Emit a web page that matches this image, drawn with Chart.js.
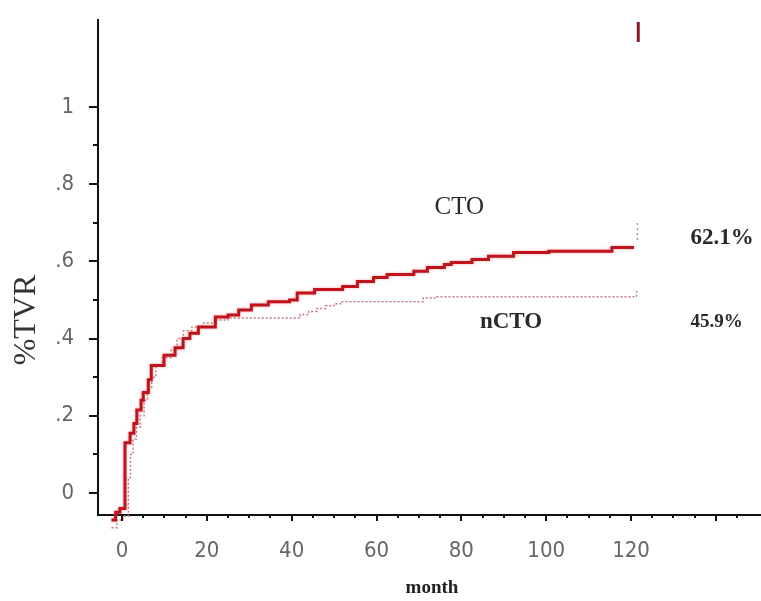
<!DOCTYPE html>
<html><head><meta charset="utf-8">
<script src="https://cdn.jsdelivr.net/npm/chart.js@4/dist/chart.umd.min.js"></script>
<style>html,body{margin:0;padding:0;background:#fff}</style>
</head><body>
<canvas id="c" width="761" height="601"></canvas>
<script>
// ---- data ----
const ctoMonths = [-2.5, -1.5, -0.5, 0.7, 1.9, 2.8, 3.5, 4.5, 5.0, 6.2, 6.9, 9.9, 12.5, 14.4, 16, 18, 22, 25, 27.5, 30.5, 34.5, 39.5, 41.3, 45.4, 52, 55.5, 59.3, 62.5, 68.8, 72, 76, 77.6, 82.5, 86.4, 92.3, 100.6, 115.5, 120.7];
const ctoValues = [-0.07, -0.05, -0.04, 0.13, 0.155, 0.18, 0.215, 0.24, 0.26, 0.293, 0.33, 0.357, 0.376, 0.40, 0.414, 0.43, 0.456, 0.461, 0.474, 0.487, 0.495, 0.50, 0.518, 0.527, 0.535, 0.548, 0.558, 0.566, 0.574, 0.584, 0.592, 0.597, 0.605, 0.613, 0.623, 0.626, 0.636, 0.636];
const nctoMonths = [-2.5, -1.2, 0.2, 1.5, 2.0, 2.6, 3.4, 4.3, 5.2, 6.0, 7.0, 8.0, 9.5, 11.5, 13, 14.5, 16.5, 19, 22, 25, 42, 44, 46, 48, 50, 51.5, 71, 74.3, 121];
const nctoValues = [-0.09, -0.07, -0.06, 0.04, 0.10, 0.14, 0.17, 0.20, 0.24, 0.27, 0.30, 0.33, 0.35, 0.37, 0.40, 0.42, 0.43, 0.44, 0.448, 0.453, 0.462, 0.47, 0.478, 0.485, 0.49, 0.495, 0.505, 0.508, 0.508];
const markTopMonths = [121.7, 121.7];
const markTopValues = [1.168, 1.22];
const markCtoEndMonths = [121.5, 121.5];
const markCtoEndValues = [0.655, 0.70];
const markNctoEndMonths = [121.3, 121.3];
const markNctoEndValues = [0.508, 0.525];
const xTickValues = [0,5,10,15,20,25,30,35,40,45,50,55,60,65,70,75,80,85,90,95,100,105,110,115,120,125,130,135,140,145];
const xTickLabels = ['0','','','','20','','','','40','','','','60','','','','80','','','','100','','','','120','','','','',''];
const yTickValues = [0,0.1,0.2,0.3,0.4,0.5,0.6,0.7,0.8,0.9,1.0];
const yTickLabels = ['0','','.2','','.4','','.6','','.8','','1'];
const annotations = [
  {text:'CTO',  x:79.5, y:0.74,  font:'25px "Liberation Serif"', align:'center'},
  {text:'62.1%',x:134,  y:0.66,  font:'bold 23px "Liberation Serif"', align:'left'},
  {text:'nCTO', x:91.7, y:0.443, font:'bold 23px "Liberation Serif"', align:'center'},
  {text:'45.9%',x:134,  y:0.443, font:'bold 19px "Liberation Serif"', align:'left'}
];

const toPts = (xs, ys) => xs.map((x, i) => ({x, y: ys[i]}));

const tickFont = {family: '"Liberation Sans Narrow","DejaVu Sans Condensed","Liberation Sans"', size: 22};

const decor = {
  id: 'decor',
  beforeDatasetDraw(chart, args) {
    if (args.index === 0) {
      chart.ctx.save();
      chart.ctx.shadowColor = 'rgba(235,90,100,0.55)';
      chart.ctx.shadowBlur = 3;
    }
  },
  afterDatasetDraw(chart, args) {
    if (args.index === 0) chart.ctx.restore();
  },
  afterDraw(chart) {
    const ctx = chart.ctx, xs = chart.scales.x, ys = chart.scales.y, a = chart.chartArea;
    ctx.save();
    ctx.strokeStyle = '#111';
    ctx.lineWidth = 2;
    xTickValues.forEach((v, i) => {
      const px = Math.round(xs.getPixelForValue(v));
      const len = v % 20 === 0 ? 6 : 3;
      ctx.beginPath(); ctx.moveTo(px, a.bottom); ctx.lineTo(px, a.bottom + len); ctx.stroke();
    });
    yTickValues.forEach((v, i) => {
      const py = Math.round(ys.getPixelForValue(v));
      const len = yTickLabels[i] !== '' ? 9 : 5;
      ctx.beginPath(); ctx.moveTo(a.left, py); ctx.lineTo(a.left - len, py); ctx.stroke();
    });
    // axis titles
    ctx.fillStyle = '#222';
    ctx.font = 'bold 19px "Liberation Serif"';
    ctx.textAlign = 'center'; ctx.textBaseline = 'middle';
    ctx.fillText('month', (a.left + a.right) / 2 + 3, 588);
    ctx.save();
    ctx.translate(27, 320);
    ctx.rotate(-Math.PI / 2);
    ctx.font = '32px "Liberation Serif"';
    ctx.fillStyle = '#333';
    ctx.fillText('%TVR', 0, 0);
    ctx.restore();
    // annotations
    annotations.forEach(an => {
      ctx.font = an.font; ctx.textAlign = an.align; ctx.textBaseline = 'middle';
      ctx.fillStyle = '#2a2a2a';
      ctx.fillText(an.text, xs.getPixelForValue(an.x), ys.getPixelForValue(an.y));
    });
    ctx.restore();
  }
};

new Chart(document.getElementById('c'), {
  type: 'line',
  data: {
    datasets: [
      {label:'CTO', data: toPts(ctoMonths, ctoValues), stepped: 'before', borderColor:'#c0141c', borderWidth:3, pointRadius:0, clip:false, fill:false},
      {label:'nCTO', data: toPts(nctoMonths, nctoValues), stepped: 'before', borderColor:'#c77a86', borderWidth:1.5, borderDash:[2,2], pointRadius:0, clip:false, fill:false},
      {label:'mark1', data: toPts(markTopMonths, markTopValues), borderColor:'#8a1a28', borderWidth:3, pointRadius:0, clip:false},
      {label:'mark2', data: toPts(markCtoEndMonths, markCtoEndValues), borderColor:'#999', borderWidth:1.5, borderDash:[2,3], pointRadius:0, clip:false},
      {label:'mark3', data: toPts(markNctoEndMonths, markNctoEndValues), borderColor:'#999', borderWidth:1.5, borderDash:[2,2], pointRadius:0, clip:false}
    ]
  },
  options: {
    responsive: false,
    animation: false,
    events: [],
    layout: {padding: {left: 0, right: 1, top: 20, bottom: 0}},
    plugins: {legend: {display:false}, tooltip: {enabled:false}, title: {display:false}},
    scales: {
      x: {
        type: 'linear', position: 'bottom', min: -5.66, max: 150.4,
        grid: {display: false},
        border: {display: true, color: '#111', width: 2},
        afterBuildTicks: s => { s.ticks = xTickValues.map(v => ({value: v})); },
        afterFit: s => { s.height = 86; s.paddingLeft = 0; s.paddingRight = 0; },
        ticks: {
          autoSkip: false, maxRotation: 0, padding: 15, color: '#666', font: tickFont,
          callback: (v) => { const i = xTickValues.indexOf(v); return i >= 0 ? xTickLabels[i] : ''; }
        }
      },
      y: {
        type: 'linear', position: 'left', min: -0.057, max: 1.225,
        grid: {display: false},
        border: {display: true, color: '#111', width: 2},
        afterBuildTicks: s => { s.ticks = yTickValues.map(v => ({value: v})); },
        afterFit: s => { s.width = 98; s.paddingTop = 0; s.paddingBottom = 0; },
        ticks: {
          autoSkip: false, padding: 16, color: '#666', font: tickFont,
          callback: (v) => { const i = yTickValues.findIndex(t => Math.abs(t - v) < 1e-9); return i >= 0 ? yTickLabels[i] : ''; }
        }
      }
    }
  },
  plugins: [decor]
});
</script>
</body></html>
